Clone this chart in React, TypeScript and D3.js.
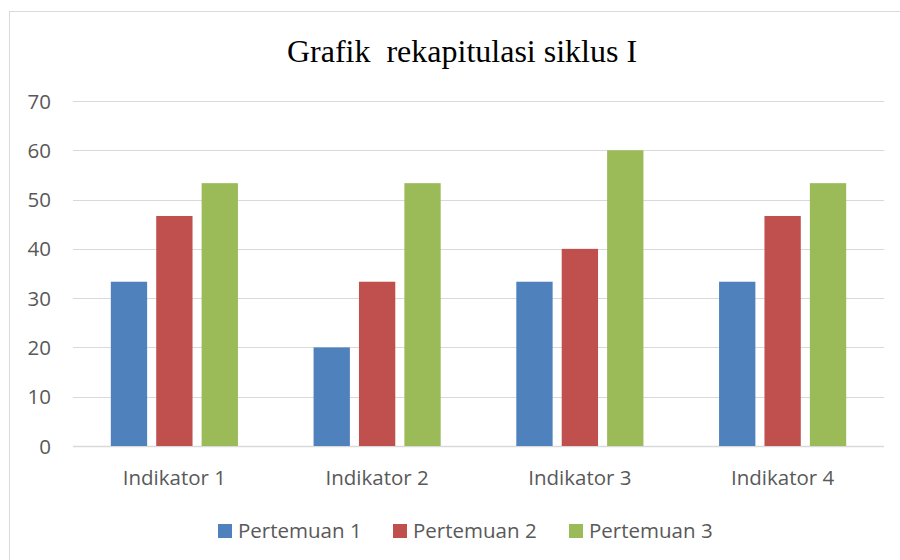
import React from "react";
import * as d3 from "d3";

const categories = ["Indikator 1", "Indikator 2", "Indikator 3", "Indikator 4"];
const seriesNames = ["Pertemuan 1", "Pertemuan 2", "Pertemuan 3"];
const pertemuan1 = [33.33, 20, 33.33, 33.33];
const pertemuan2 = [46.67, 33.33, 40, 46.67];
const pertemuan3 = [53.33, 53.33, 60, 53.33];
const yTicks = [0, 10, 20, 30, 40, 50, 60, 70];
const colors = ["#4F81BD", "#C0504D", "#9BBB59"];

const W = 900, H = 560;
const left = 73, right = 884, top = 101, bottom = 446;
const font = "'Open Sans', 'Noto Sans', sans-serif";

export default function App() {
  const series = [pertemuan1, pertemuan2, pertemuan3];
  const x0 = d3.scaleBand().domain(categories).range([left, right]).paddingInner(0.373).paddingOuter(0.1865);
  const x1 = d3.scaleBand().domain(seriesNames).range([0, x0.bandwidth()]).paddingInner(0.2).paddingOuter(0);
  const y = d3.scaleLinear().domain([0, 70]).range([bottom, top]);
  const legendX = [218, 393, 569];

  return (
    <svg width={W} height={H} style={{ position: "absolute", left: 0, top: 0, background: "#fff" }}>
      <rect x={9.5} y={11.5} width={W} height={H} fill="#fff" stroke="#d9d9d9" strokeWidth={1} />
      <text x={462} y={62} textAnchor="middle" fontFamily="'Liberation Serif', 'Times New Roman', serif" fontSize={32} fill="#000" style={{ whiteSpace: "pre" }}>
        {"Grafik  rekapitulasi siklus I"}
      </text>
      {yTicks.map((t) => (
        <g key={t}>
          <line x1={left} x2={right} y1={Math.round(y(t)) + 0.5} y2={Math.round(y(t)) + 0.5} stroke="#d9d9d9" strokeWidth={t === 0 ? 1.5 : 1} />
          <text x={51} y={y(t) + 7.5} textAnchor="end" fontFamily={font} fontSize={20.5} fill="#595959">{t}</text>
        </g>
      ))}
      {categories.map((c, i) => (
        <g key={c}>
          {series.map((s, j) => (
            <rect key={j} x={(x0(c) as number) + (x1(seriesNames[j]) as number)} y={y(s[i])} width={x1.bandwidth()} height={bottom - y(s[i])} fill={colors[j]} />
          ))}
          <text x={(x0(c) as number) + x0.bandwidth() / 2} y={485} textAnchor="middle" fontFamily={font} fontSize={20.5} fill="#595959">{c}</text>
        </g>
      ))}
      {seriesNames.map((n, j) => (
        <g key={n}>
          <rect x={legendX[j]} y={524} width={14} height={14} fill={colors[j]} />
          <text x={legendX[j] + 20} y={538} fontFamily={font} fontSize={20.5} fill="#595959">{n}</text>
        </g>
      ))}
    </svg>
  );
}
